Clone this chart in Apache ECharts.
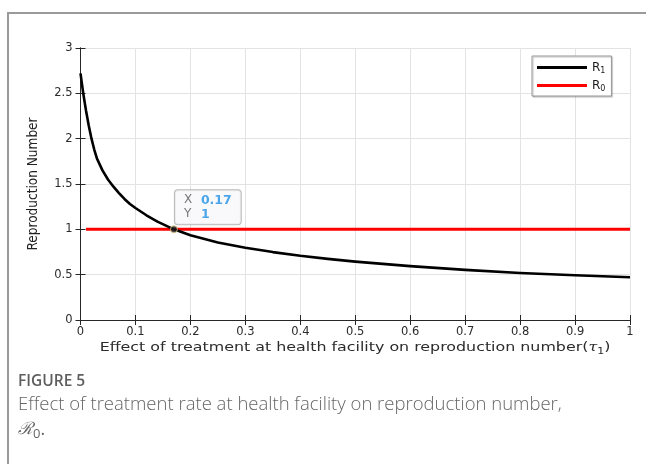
<!DOCTYPE html>
<html>
<head>
<meta charset="utf-8">
<script src="https://cdn.jsdelivr.net/npm/echarts@6/dist/echarts.min.js"></script>
<style>
  html, body { margin: 0; padding: 0; background: #fff; }
  #chart { width: 646px; height: 464px; }
</style>
</head>
<body>
<div id="chart"></div>
<script>
// Treatment effect at the health facility (tau_1) and the resulting reproduction numbers
const tauValues = [0, 0.005, 0.01, 0.015, 0.02, 0.025, 0.03, 0.04, 0.05, 0.06, 0.07, 0.08, 0.09, 0.1,
                   0.12, 0.14, 0.17, 0.2, 0.25, 0.3, 0.35, 0.4, 0.45, 0.5, 0.6, 0.7, 0.8, 0.9, 1.0];
const r1Values  = [2.72, 2.50, 2.31, 2.145, 2.00, 1.88, 1.78, 1.65, 1.55, 1.47, 1.40, 1.335, 1.28, 1.235,
                   1.155, 1.085, 1.00, 0.935, 0.855, 0.797, 0.749, 0.708, 0.674, 0.644, 0.594, 0.553, 0.519, 0.494, 0.471];
const r0Tau     = [0.01, 1.0];
const r0Values  = [1, 1];
const crossing  = [0.17, 1];   // highlighted point where R1 meets R0
const xTicks    = ['0', '0.1', '0.2', '0.3', '0.4', '0.5', '0.6', '0.7', '0.8', '0.9', '1'];
const yTicks    = ['0', '0.5', '1', '1.5', '2', '2.5', '3'];
const xTitle    = 'Effect of treatment at health facility on reproduction number(';

const tickFont = "'DejaVu Sans', 'Liberation Sans', Arial, sans-serif";
const narrowFont = "'Liberation Sans Narrow', 'DejaVu Sans Condensed', 'Liberation Sans', sans-serif";
const inkColor = '#2b2b2b';

const r1Data = tauValues.map((t, i) => [t, r1Values[i]]);
const r0Data = r0Tau.map((t, i) => [t, r0Values[i]]);

const labelNames = { R1: 'R{s|1}', R0: 'R{s|0}' };

const chart = echarts.init(document.getElementById('chart'), null, { renderer: 'canvas' });

const axisCommon = {
  type: 'value',
  axisLine: { show: true, lineStyle: { color: '#262626', width: 1 } },
  axisTick: { show: true, inside: true, length: 5, lineStyle: { color: '#262626' } },
};

chart.setOption({
  animation: false,
  backgroundColor: '#fff',
  grid: { left: 80.5, right: 16, top: 48, bottom: 144, containLabel: false },
  xAxis: [
    Object.assign({}, axisCommon, {
      min: 0, max: 1, interval: 0.1,
      axisLabel: {
        color: inkColor, fontSize: 11.5, fontFamily: tickFont, margin: 6,
        formatter: v => xTicks[Math.round(v * 10)]
      },
      splitLine: { show: true, lineStyle: { color: '#e3e3e3', width: 1 } }
    }),
    Object.assign({}, axisCommon, {
      position: 'top', min: 0, max: 1, interval: 0.1,
      axisLabel: { show: false }, splitLine: { show: false }
    })
  ],
  yAxis: [
    Object.assign({}, axisCommon, {
      min: 0, max: 3, interval: 0.5,
      axisLabel: {
        color: inkColor, fontSize: 11.5, fontFamily: tickFont, margin: 8,
        formatter: v => yTicks[Math.round(v * 2)]
      },
      splitLine: { show: true, lineStyle: { color: '#e3e3e3', width: 1 } },
      name: 'Reproduction Number',
      nameLocation: 'middle', nameGap: 40, nameRotate: 90,
      nameTextStyle: { color: '#222', fontSize: 13.5, fontFamily: narrowFont }
    }),
    Object.assign({}, axisCommon, {
      position: 'right', min: 0, max: 3, interval: 0.5,
      axisLabel: { show: false }, splitLine: { show: false }
    })
  ],
  legend: {
    orient: 'vertical',
    left: 532, top: 56,
    padding: [4, 6, 3, 5],
    itemWidth: 50, itemHeight: 3, itemGap: 3,
    icon: 'rect',
    backgroundColor: '#fff',
    borderColor: '#999', borderWidth: 1,
    shadowColor: 'rgba(0,0,0,0.25)', shadowOffsetX: 1, shadowOffsetY: 1, shadowBlur: 1,
    data: ['R1', 'R0'],
    formatter: name => labelNames[name],
    textStyle: {
      color: '#1a1a1a', fontSize: 12, fontFamily: tickFont, lineHeight: 15,
      rich: {
        s: { fontSize: 8, fontFamily: tickFont, color: '#1a1a1a', verticalAlign: 'bottom', lineHeight: 8 }
      }
    }
  },
  series: [
    {
      name: 'R1', type: 'line', data: r1Data,
      smooth: false, showSymbol: false, symbol: 'none',
      lineStyle: { color: '#000', width: 2.6, join: 'round' },
      itemStyle: { color: '#000' },
      z: 3
    },
    {
      name: 'R0', type: 'line', data: r0Data,
      showSymbol: false, symbol: 'none',
      lineStyle: { color: '#ff0000', width: 3 },
      itemStyle: { color: '#ff0000' },
      z: 2
    },
    {
      name: 'crossing', type: 'scatter', data: [crossing],
      symbol: 'circle', symbolSize: 7,
      itemStyle: { color: '#1a1a1a', borderColor: '#e6cf8a', borderWidth: 1 },
      z: 5,
      label: {
        show: true,
        position: [5, -35],
        align: 'left', verticalAlign: 'top',
        formatter: p => `{k|X}{v|${p.value[0]}}\n{k|Y}{v|${p.value[1]}}`,
        backgroundColor: '#f7f7fb',
        borderColor: '#a8a8a8', borderWidth: 1, borderRadius: 3,
        padding: [3, 9, 3, 9],
        rich: {
          k: { fontSize: 12, color: '#555', fontFamily: tickFont, lineHeight: 14, width: 17 },
          v: { fontSize: 12.5, color: '#1e90e6', fontWeight: 'bold', fontFamily: tickFont, lineHeight: 14 }
        }
      }
    }
  ],
  graphic: [
    {
      type: 'polyline', silent: true,
      shape: { points: [[8, 464], [8, 13], [646, 13]] },
      style: { stroke: '#9a9a9a', lineWidth: 2, fill: null }
    },
    {
      // x-axis title, drawn wide like the rest of the axis lettering
      type: 'text', x: 355, y: 348, scaleX: 1.22, scaleY: 1,
      style: {
        text: '{n|' + xTitle + '}{t|τ}{s|1}{n|)}',
        align: 'center', verticalAlign: 'middle',
        rich: {
          n: { fontSize: 13, fontFamily: tickFont, fill: inkColor, lineHeight: 16 },
          t: { fontSize: 13, fontStyle: 'italic', fontFamily: "'DejaVu Serif', serif", fill: inkColor, lineHeight: 16 },
          s: { fontSize: 9, fontFamily: tickFont, fill: inkColor, verticalAlign: 'bottom', lineHeight: 9 }
        }
      }
    },
    {
      type: 'text', left: 18, top: 374,
      style: { text: 'FIGURE 5', fill: '#5e5e5e', font: "600 15.5px 'Open Sans', 'Noto Sans', sans-serif" }
    },
    {
      type: 'text', left: 18, top: 395,
      style: {
        text: 'Effect of treatment rate at health facility on reproduction number,',
        fill: '#666', font: "300 18.5px 'Open Sans', 'Lato', 'Noto Sans', sans-serif"
      }
    },
    {
      type: 'text', left: 18, top: 421,
      style: {
        text: '{r|ℛ}{s|0}{d|.}',
        rich: {
          r: { fill: '#666', fontSize: 17, fontFamily: "'DejaVu Serif', serif", fontStyle: 'italic', lineHeight: 22, verticalAlign: 'middle' },
          s: { fill: '#666', fontSize: 13, fontFamily: "'Open Sans', sans-serif", lineHeight: 13, verticalAlign: 'bottom' },
          d: { fill: '#666', fontSize: 18, fontFamily: "'Open Sans', sans-serif", lineHeight: 22, verticalAlign: 'middle' }
        }
      }
    }
  ]
});
</script>
</body>
</html>
